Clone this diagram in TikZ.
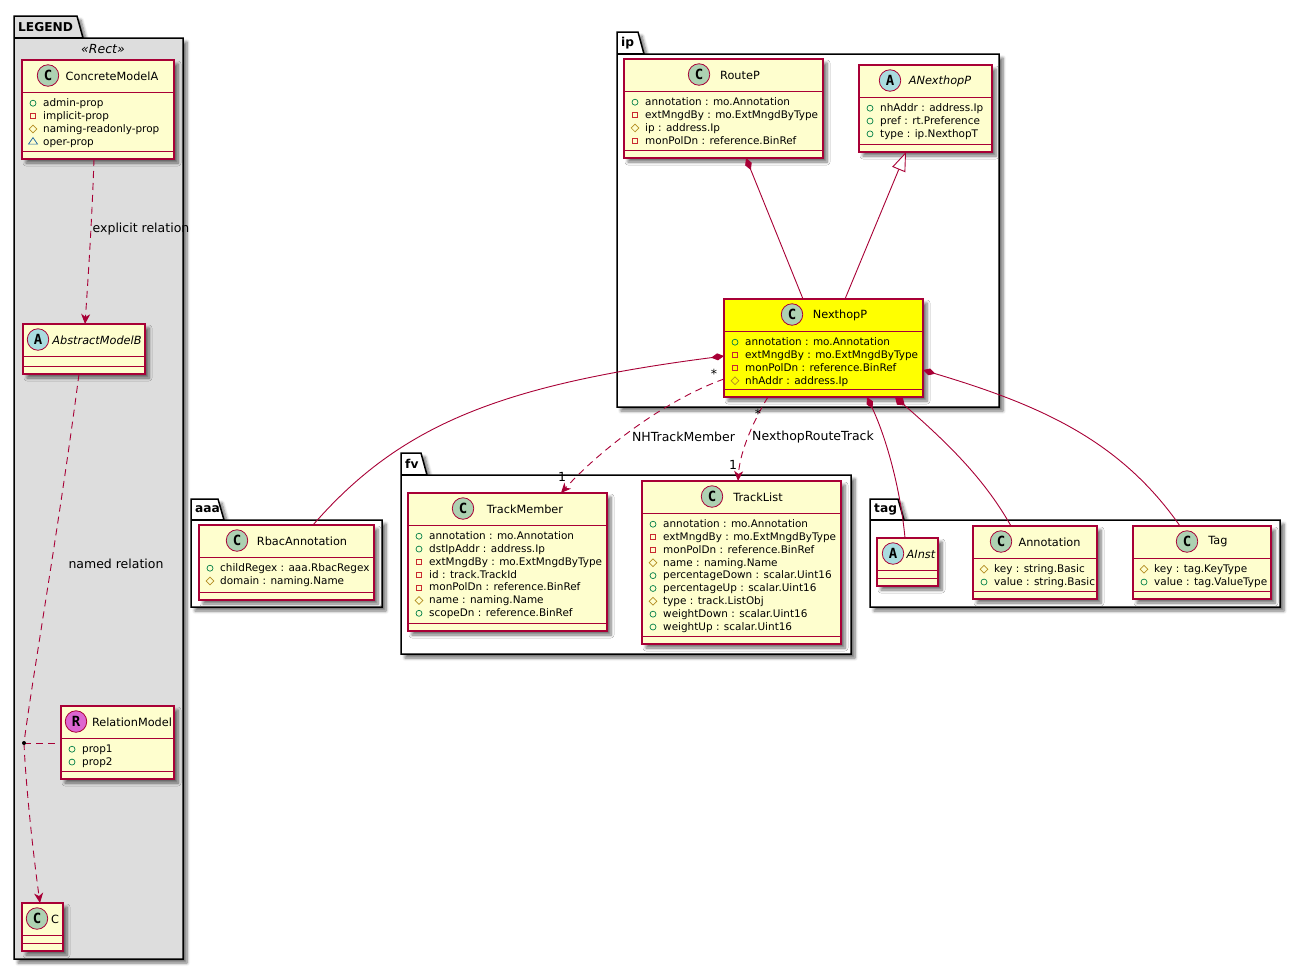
\documentclass[tikz,border=0pt]{standalone}
\usepackage{fontspec}
\setmainfont{DejaVu Sans}
\newfontfamily\spotfont{DejaVu Sans Mono}
\usepackage{xcolor}
\usetikzlibrary{arrows.meta,shapes.geometric,shadows.blur}
\definecolor{umlred}{HTML}{A80036}
\definecolor{umlfill}{HTML}{FEFECE}
\definecolor{nhyellow}{HTML}{FFFF00}
\definecolor{legendgray}{HTML}{DDDDDD}
\definecolor{spotC}{HTML}{ADD1B2}
\definecolor{spotA}{HTML}{A9DCDF}
\definecolor{spotR}{HTML}{DD66D0}
\definecolor{vispublic}{HTML}{038048}
\definecolor{visprivate}{HTML}{C82930}
\definecolor{visprotected}{HTML}{B38D22}
\definecolor{vispackage}{HTML}{1963A0}
\tikzset{
softshadow/.style={blur shadow={shadow xshift=4pt,shadow yshift=-4pt,shadow blur radius=3pt,shadow blur steps=6,shadow opacity=55}},
classbox/.style={draw=umlred,fill=umlfill,line width=1.15pt,inner sep=0pt,outer sep=0pt,anchor=north west,softshadow},
classline/.style={draw=umlred,line width=1pt},
spotnode/.style={circle,draw=umlred,line width=.8pt,minimum size=21.5pt,inner sep=0pt,font=\spotfont\bfseries\fontsize{14}{14}\selectfont},
titletext/.style={inner sep=0pt,font=\fontsize{11.3}{13}\selectfont},
membertext/.style={inner sep=0pt,anchor=west,text height=8pt,text depth=2pt,font=\fontsize{10.45}{12}\selectfont},
visp/.style={circle,draw=vispublic,line width=.7pt,minimum size=6pt,inner sep=0pt},
visr/.style={rectangle,draw=visprivate,line width=.7pt,minimum size=5.5pt,inner sep=0pt},
visd/.style={diamond,draw=visprotected,line width=.7pt,minimum size=8pt,inner sep=0pt},
vist/.style={isosceles triangle,shape border rotate=90,isosceles triangle stretches,draw=vispackage,line width=.7pt,minimum width=9pt,minimum height=6.5pt,inner sep=0pt},
pkgshape/.style={draw=black,line width=1.5pt,fill=white,softshadow},
pkglabel/.style={inner sep=0pt,anchor=west,font=\bfseries\fontsize{12.2}{13}\selectfont},
edgetext/.style={inner sep=0pt,font=\fontsize{12.5}{14}\selectfont},
assoc/.style={draw=umlred,line width=.9pt},
depline/.style={assoc,dash pattern=on 7pt off 5pt},
comp/.style={assoc,{Diamond[length=13pt,width=7pt]}-},
}
\newcommand\umlpackage[8][white]{%
\draw[pkgshape,fill=#1](#3,#4)--(#5,#4)--(#5+6,#6)--(#7,#6)--(#7,#8)--(#3,#8)--cycle;
\draw[line width=1.5pt](#3,#6)--(#5+6,#6);
\node[pkglabel](#2) at (#3+4,{(#4+#6)/2}) {#2};
}
\newcommand\umlclass[9][]{%
\node[classbox,minimum width=#5pt,minimum height=#6pt,#1](#2) at (#3,#4) {};
\draw[classline]([yshift=-32pt]#2.north west)--([yshift=-32pt]#2.north east)
([yshift=8pt]#2.south west)--([yshift=8pt]#2.south east);
\node[spotnode,fill=spot#7](#2-spot) at (#8,#4+15.5) {#7};
\node[titletext](#2-title) at (#9,#4+16)
}
\newcommand\umlmembers[2]{%
\foreach \vis/\txt [count=\i] in {#2}{
\node[vis\vis](#1-v\i) at ([xshift=11pt,yshift={-43.2pt-12.85pt*(\i-1)}]#1.north west) {};
\node[membertext](#1-m\i) at ([xshift=21pt,yshift={-43.5pt-12.85pt*(\i-1)}]#1.north west) {\txt};
}}
\begin{document}
\begin{tikzpicture}[x=1pt,y=-1pt,>={Stealth[length=10pt,width=9pt,inset=3pt]}]
\useasboundingbox (0,0) rectangle (1300,970);
\umlpackage[legendgray]{LEGEND}{14}{16}{77}{38}{183}{959}
\umlpackage{ip}{617}{32}{638}{54}{999}{407}
\umlpackage{fv}{401}{453}{421}{475}{851}{654}
\umlpackage{aaa}{191}{499}{218}{520}{382}{607}
\umlpackage{tag}{870}{499}{898}{520}{1280}{607}
\node[edgetext,font=\itshape\fontsize{12.5}{14}\selectfont](rect) at (103,49) {«Rect»};

\umlclass{concretea}{22}{60}{152}{99}{C}{48}{112}{ConcreteModelA};
\umlmembers{concretea}{p/admin-prop,r/implicit-prop,d/naming-readonly-prop,t/oper-prop}
\umlclass{abstractb}{23}{324}{122}{50}{A}{38}{97}{\itshape AbstractModelB};
\umlclass{relationm}{61}{706}{113}{73}{R}{76}{132}{RelationModel};
\umlmembers{relationm}{p/prop1,p/prop2}
\umlclass{c}{22}{903}{41}{48}{C}{37}{55}{C};
\umlclass{routep}{624}{59}{199}{99}{C}{699}{740}{RouteP};
\umlmembers{routep}{p/annotation : mo.Annotation,r/extMngdBy : mo.ExtMngdByType,d/ip : address.Ip,r/monPolDn : reference.BinRef}
\umlclass{anexthopp}{859}{65}{133}{87}{A}{890}{940}{\itshape ANexthopP};
\umlmembers{anexthopp}{p/nhAddr : address.Ip,p/pref : rt.Preference,p/type : ip.NexthopT}
\umlclass[fill=nhyellow]{nexthopp}{724}{299}{199}{98}{C}{792}{840}{NexthopP};
\umlmembers{nexthopp}{p/annotation : mo.Annotation,r/extMngdBy : mo.ExtMngdByType,r/monPolDn : reference.BinRef,d/nhAddr : address.Ip}
\umlclass{rbac}{199}{525}{175}{75}{C}{237}{302}{RbacAnnotation};
\umlmembers{rbac}{p/childRegex : aaa.RbacRegex,d/domain : naming.Name}
\umlclass{trackm}{408}{493}{199}{138}{C}{463}{525}{TrackMember};
\umlmembers{trackm}{p/annotation : mo.Annotation,p/dstIpAddr : address.Ip,r/extMngdBy : mo.ExtMngdByType,r/id : track.TrackId,r/monPolDn : reference.BinRef,d/name : naming.Name,p/scopeDn : reference.BinRef}
\umlclass{trackl}{642}{481}{199}{163}{C}{712}{758}{TrackList};
\umlmembers{trackl}{p/annotation : mo.Annotation,r/extMngdBy : mo.ExtMngdByType,r/monPolDn : reference.BinRef,d/name : naming.Name,p/percentageDown : scalar.Uint16,p/percentageUp : scalar.Uint16,d/type : track.ListObj,p/weightDown : scalar.Uint16,p/weightUp : scalar.Uint16}
\umlclass{ainst}{877}{538}{61}{48}{A}{893}{921}{\itshape AInst};
\umlclass{annotation}{973}{526}{124}{73}{C}{1001}{1049.5}{Annotation};
\umlmembers{annotation}{d/key : string.Basic,p/value : string.Basic}
\umlclass{tagc}{1133}{526}{138}{73}{C}{1187}{1218}{Tag};
\umlmembers{tagc}{d/key : tag.KeyType,p/value : tag.ValueType}

\coordinate (relpoint) at (24,743);
\draw[depline,->]([xshift=72pt]concretea.south west) .. controls (92,220) and (88,280) .. ([xshift=62pt]abstractb.north west);
\draw[depline]([xshift=56pt]abstractb.south west) .. controls (60,520) and (32,680) .. (relpoint);
\draw[depline,->](relpoint) .. controls (26,790) and (34,860) .. ([xshift=18pt]c.north west);
\draw[depline](relpoint)--(relationm.west |- relpoint);
\node[circle,fill=black,inner sep=0pt,minimum size=4pt](reldot) at (relpoint) {};
\draw[comp]([xshift=122pt]routep.south west)--([xshift=79pt]nexthopp.north west);
\draw[assoc,{Triangle[open,length=19pt,width=14pt,fill=white]}-]([xshift=47pt]anexthopp.south west)--([xshift=121pt]nexthopp.north west);
\draw[comp]([yshift=-57pt]nexthopp.north west) .. controls (500,385) and (400,425) .. ([xshift=114pt]rbac.north west);
\draw[depline,->]([yshift=-80pt]nexthopp.north west) .. controls (665,400) and (600,450) .. ([xshift=153pt]trackm.north west);
\draw[depline,->]([xshift=44pt]nexthopp.south west) .. controls (755,418) and (740,450) .. ([xshift=96pt]trackl.north west);
\draw[comp]([xshift=143pt]nexthopp.south west) .. controls (885,435) and (900,485) .. ([xshift=28pt]ainst.north west);
\draw[assoc,{Diamond[length=13pt,width=9pt]}-]([xshift=171pt]nexthopp.south west) .. controls (950,445) and (985,480) .. ([xshift=38pt]annotation.north west);
\draw[comp]([yshift=-71pt]nexthopp.north east) .. controls (1040,405) and (1120,440) .. ([xshift=47pt]tagc.north west);

\node[edgetext](explicitlbl) at (141,229) {explicit relation};
\node[edgetext](namedlbl) at (116,564) {named relation};
\node[edgetext](nhtracklbl) at (683.5,437) {NHTrackMember};
\node[edgetext](routetracklbl) at (813,437) {NexthopRouteTrack};
\node[edgetext](starm) at (714,374) {*};
\node[edgetext](starl) at (758,414) {*};
\node[edgetext](onem) at (562,477) {1};
\node[edgetext](onel) at (733,465) {1};
\end{tikzpicture}
\end{document}
